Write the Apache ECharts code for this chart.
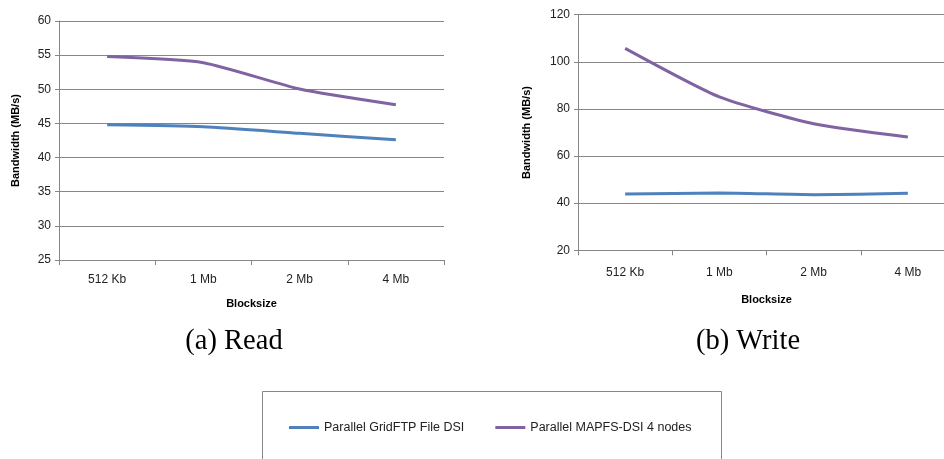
<!DOCTYPE html>
<html>
<head>
<meta charset="utf-8">
<script src="https://cdn.jsdelivr.net/npm/echarts@6/dist/echarts.min.js"></script>
<style>html,body{margin:0;padding:0;background:#fff}#c{width:944px;height:459px}</style>
</head>
<body>
<div id="c"></div>
<script>
var categories = ['512 Kb', '1 Mb', '2 Mb', '4 Mb'];
var seriesNames = ['Parallel GridFTP File DSI', 'Parallel MAPFS-DSI 4 nodes'];
var readGridFTP = [44.8, 44.5, 43.55, 42.6];
var readMAPFS = [54.8, 53.9, 50.05, 47.75];
var writeGridFTP = [43.9, 44.3, 43.6, 44.2];
var writeMAPFS = [105.7, 85.1, 73.7, 68.1];
var captions = ['(a) Read', '(b) Write'];

var FONT = 'Liberation Sans';
var BLUE = '#4F81BD', PURPLE = '#8064A2';
var chart = echarts.init(document.getElementById('c'));

function xAx(idx, margin, gap) {
  return {
    type: 'category', gridIndex: idx, data: categories, boundaryGap: true,
    name: 'Blocksize', nameLocation: 'middle', nameGap: gap,
    nameTextStyle: {fontFamily: FONT, fontSize: 11, fontWeight: 'bold', color: '#000'},
    axisLine: {lineStyle: {color: '#868686', width: 1}},
    axisTick: {show: true, length: 5, lineStyle: {color: '#868686'}},
    axisLabel: {fontFamily: FONT, fontSize: 12, color: '#222', margin: margin},
    splitLine: {show: false}
  };
}
function yAx(idx, min, max, interval, gap) {
  return {
    type: 'value', gridIndex: idx, min: min, max: max, interval: interval,
    name: 'Bandwidth (MB/s)', nameLocation: 'middle', nameRotate: 90, nameGap: gap,
    nameTextStyle: {fontFamily: FONT, fontSize: 11, fontWeight: 'bold', color: '#000'},
    axisLine: {show: true, lineStyle: {color: '#868686', width: 1}},
    axisTick: {show: true, length: 4, lineStyle: {color: '#868686'}},
    axisLabel: {fontFamily: FONT, fontSize: 12, color: '#222', margin: 8},
    splitLine: {show: true, lineStyle: {color: '#868686', width: 1}}
  };
}
function ser(name, data, idx, color) {
  return {
    type: 'line', name: name, data: data, xAxisIndex: idx, yAxisIndex: idx,
    smooth: 0.2, symbol: 'none', lineStyle: {color: color, width: 3}, itemStyle: {color: color},
    animation: false
  };
}

chart.setOption({
  animation: false,
  grid: [
    {left: 59, top: 21, width: 385, height: 239, outerBoundsMode: 'none'},
    {left: 578, top: 14.7, width: 377, height: 235.6, outerBoundsMode: 'none'}
  ],
  xAxis: [xAx(0, 14, 38), xAx(1, 16, 44)],
  yAxis: [yAx(0, 25, 60, 5, 38), yAx(1, 20, 120, 20, 46)],
  legend: {
    left: 289, top: 421, padding: 0, itemWidth: 30, itemHeight: 3, itemGap: 31, icon: 'rect',
    data: seriesNames,
    textStyle: {fontFamily: FONT, fontSize: 12.5, color: '#222'}
  },
  series: [
    ser(seriesNames[0], readGridFTP, 0, BLUE),
    ser(seriesNames[1], readMAPFS, 0, PURPLE),
    ser(seriesNames[0], writeGridFTP, 1, BLUE),
    ser(seriesNames[1], writeMAPFS, 1, PURPLE)
  ],
  graphic: [
    {type: 'text', style: {x: 234, y: 342, text: captions[0], font: '28.5px "Liberation Serif"', fill: '#000', align: 'center', verticalAlign: 'middle'}},
    {type: 'text', style: {x: 748, y: 342, text: captions[1], font: '28.5px "Liberation Serif"', fill: '#000', align: 'center', verticalAlign: 'middle'}},
    {type: 'rect', shape: {x: 262.5, y: 391.5, width: 459, height: 100}, style: {fill: 'none', stroke: '#868686', lineWidth: 1}}
  ]
});
</script>
</body>
</html>
